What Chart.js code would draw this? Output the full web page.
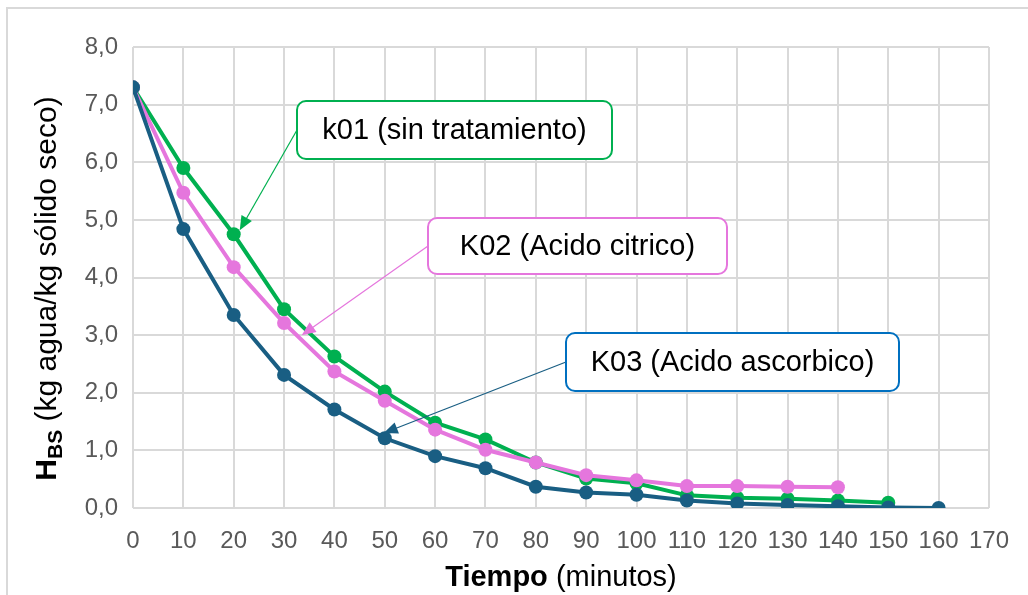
<!DOCTYPE html>
<html>
<head>
<meta charset="utf-8">
<script src="https://cdn.jsdelivr.net/npm/chart.js@4.4.0/dist/chart.umd.min.js"></script>
<style>
  html, body { margin: 0; padding: 0; background: #fff; }
</style>
</head>
<body>
<canvas id="chart" width="1028" height="595"></canvas>
<script>
// --- Data ---
const tiempoK01 = [0, 10, 20, 30, 40, 50, 60, 70, 80, 90, 100, 110, 120, 130, 140, 150];
const valoresK01 = [7.30, 5.90, 4.75, 3.45, 2.63, 2.02, 1.48, 1.19, 0.79, 0.51, 0.43, 0.22, 0.18, 0.16, 0.13, 0.09];

const tiempoK02 = [0, 10, 20, 30, 40, 50, 60, 70, 80, 90, 100, 110, 120, 130, 140];
const valoresK02 = [7.30, 5.47, 4.18, 3.21, 2.37, 1.86, 1.36, 1.01, 0.79, 0.57, 0.48, 0.38, 0.38, 0.37, 0.36];

const tiempoK03 = [0, 10, 20, 30, 40, 50, 60, 70, 80, 90, 100, 110, 120, 130, 140, 150, 160];
const valoresK03 = [7.30, 4.84, 3.35, 2.31, 1.71, 1.21, 0.90, 0.69, 0.37, 0.27, 0.23, 0.13, 0.08, 0.05, 0.03, 0.01, 0.00];

const xTicks = [0, 10, 20, 30, 40, 50, 60, 70, 80, 90, 100, 110, 120, 130, 140, 150, 160, 170];
const yTicks = [0, 1, 2, 3, 4, 5, 6, 7, 8];

const seriesLabels = ['k01 (sin tratamiento)', 'K02 (Acido citrico)', 'K03 (Acido ascorbico)'];

const toPoints = (xs, ys) => xs.map((x, i) => ({ x: x, y: ys[i] }));

const GREEN = '#00B050';
const PINK = '#E576DD';
const NAVY = '#195E83';
const GRID = '#d9d9d9';
const FONT = '"Liberation Sans", Arial, sans-serif';

// Callout boxes with arrows pointing to a spot on the curves
const callouts = [
    { text: seriesLabels[0], border: GREEN, arrow: GREEN, box: { x: 297, y: 101, w: 315, h: 58 }, target: { x: 21.2, y: 4.82 } },
    { text: seriesLabels[1], border: PINK, arrow: PINK, box: { x: 428, y: 218, w: 299, h: 56 }, target: { x: 33.5, y: 3.0 } },
    { text: seriesLabels[2], border: '#0070C0', arrow: NAVY, box: { x: 566, y: 333, w: 333, h: 58 }, target: { x: 49.8, y: 1.3 } },
];

const calloutPlugin = {
    id: 'callouts',
    afterDatasetsDraw(chart) {
        const ctx = chart.ctx;
        const xs = chart.scales.x, ys = chart.scales.y;
        callouts.forEach(c => {
            const sx = c.box.x, sy = c.box.y + c.box.h / 2;
            const tx = xs.getPixelForValue(c.target.x), ty = ys.getPixelForValue(c.target.y);
            const ang = Math.atan2(ty - sy, tx - sx);
            const len = 14, half = 6;
            ctx.save();
            ctx.strokeStyle = c.arrow;
            ctx.fillStyle = c.arrow;
            ctx.lineWidth = 1.2;
            ctx.beginPath();
            ctx.moveTo(sx, sy);
            ctx.lineTo(tx - Math.cos(ang) * len * 0.8, ty - Math.sin(ang) * len * 0.8);
            ctx.stroke();
            ctx.beginPath();
            ctx.moveTo(tx, ty);
            ctx.lineTo(tx - Math.cos(ang) * len - Math.sin(ang) * half, ty - Math.sin(ang) * len + Math.cos(ang) * half);
            ctx.lineTo(tx - Math.cos(ang) * len + Math.sin(ang) * half, ty - Math.sin(ang) * len - Math.cos(ang) * half);
            ctx.closePath();
            ctx.fill();

            ctx.beginPath();
            ctx.roundRect(c.box.x, c.box.y, c.box.w, c.box.h, 9);
            ctx.fillStyle = '#ffffff';
            ctx.fill();
            ctx.lineWidth = 2;
            ctx.strokeStyle = c.border;
            ctx.stroke();

            ctx.fillStyle = '#000000';
            ctx.font = '29px ' + FONT;
            ctx.textAlign = 'center';
            ctx.textBaseline = 'middle';
            ctx.fillText(c.text, c.box.x + c.box.w / 2, c.box.y + c.box.h / 2 + 1);
            ctx.restore();
        });
    }
};

const framePlugin = {
    id: 'frameAndTitles',
    afterDraw(chart) {
        const ctx = chart.ctx;
        const area = chart.chartArea;
        ctx.save();
        // outer chart border (only left/top visible)
        ctx.strokeStyle = GRID;
        ctx.lineWidth = 2;
        ctx.strokeRect(7, 8, 1100, 700);

        // x title: bold "Tiempo" + regular " (minutos)"
        const boldF = 'bold 29px ' + FONT;
        const regF = '29px ' + FONT;
        ctx.fillStyle = '#000000';
        ctx.textBaseline = 'middle';
        ctx.textAlign = 'left';
        ctx.font = boldF;
        const w1 = ctx.measureText('Tiempo').width;
        ctx.font = regF;
        const w2 = ctx.measureText(' (minutos)').width;
        const cx = (area.left + area.right) / 2;
        const x0 = cx - (w1 + w2) / 2;
        ctx.font = boldF;
        ctx.fillText('Tiempo', x0, 578);
        ctx.font = regF;
        ctx.fillText(' (minutos)', x0 + w1, 578);

        // y title: bold H with subscript BS + regular rest, rotated
        const yBold = 'bold 30px ' + FONT;
        const yReg = '30px ' + FONT;
        const subF = 'bold 21px ' + FONT;
        const rest = ' (kg agua/kg sólido seco)';
        ctx.font = yBold;
        const wh = ctx.measureText('H').width;
        ctx.font = subF;
        const wb = ctx.measureText('BS').width;
        ctx.font = yReg;
        const wr = ctx.measureText(rest).width;
        ctx.translate(46, (area.top + area.bottom) / 2 + 11);
        ctx.rotate(-Math.PI / 2);
        const p = -(wh + wb + wr) / 2;
        ctx.textBaseline = 'alphabetic';
        ctx.font = yBold;
        ctx.fillText('H', p, 10);
        ctx.font = subF;
        ctx.fillText('BS', p + wh, 16);
        ctx.font = yReg;
        ctx.fillText(rest, p + wh + wb, 10);
        ctx.restore();
    }
};

const tickFont = { family: FONT, size: 24 };

new Chart(document.getElementById('chart').getContext('2d'), {
    type: 'line',
    data: {
        datasets: [
            {
                label: seriesLabels[0],
                data: toPoints(tiempoK01, valoresK01),
                borderColor: GREEN,
                backgroundColor: GREEN,
                order: 3,
            },
            {
                label: seriesLabels[1],
                data: toPoints(tiempoK02, valoresK02),
                borderColor: PINK,
                backgroundColor: PINK,
                order: 2,
            },
            {
                label: seriesLabels[2],
                data: toPoints(tiempoK03, valoresK03),
                borderColor: NAVY,
                backgroundColor: NAVY,
                order: 1,
            },
        ],
    },
    options: {
        responsive: false,
        animation: false,
        elements: {
            line: { borderWidth: 4, tension: 0 },
            point: { radius: 7, borderWidth: 0, hoverRadius: 7 },
        },
        layout: { padding: { top: 47, right: 33, left: 0, bottom: 0 } },
        plugins: {
            legend: { display: false },
            tooltip: { enabled: false },
        },
        scales: {
            x: {
                type: 'linear',
                min: 0,
                max: 170,
                afterBuildTicks: s => { s.ticks = xTicks.map(v => ({ value: v })); },
                afterFit: s => { s.height = 87; },
                grid: { color: GRID, lineWidth: 2, drawTicks: false },
                border: { display: false },
                ticks: {
                    color: '#595959',
                    font: tickFont,
                    padding: 19,
                    maxRotation: 0,
                    autoSkip: false,
                    callback: v => String(v),
                },
            },
            y: {
                min: 0,
                max: 8,
                afterBuildTicks: s => { s.ticks = yTicks.map(v => ({ value: v })); },
                afterFit: s => { s.width = 133; },
                grid: { color: GRID, lineWidth: 2, drawTicks: false },
                border: { display: false },
                ticks: {
                    color: '#595959',
                    font: tickFont,
                    padding: 15,
                    callback: v => v.toFixed(1).replace('.', ','),
                },
            },
        },
    },
    plugins: [calloutPlugin, framePlugin],
});
</script>
</body>
</html>
